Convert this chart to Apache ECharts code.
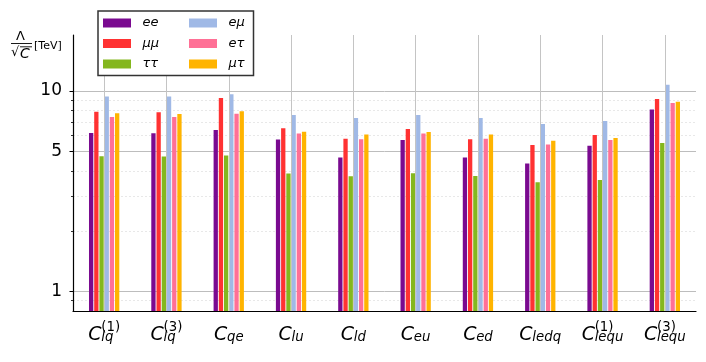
<!DOCTYPE html>
<html>
<head>
<meta charset="utf-8">
<script src="https://cdn.jsdelivr.net/npm/echarts@6/dist/echarts.min.js"></script>
<style>
  html, body { margin: 0; padding: 0; background: #fff; }
  #main { width: 706px; height: 362px; }
</style>
</head>
<body>
<div id="main"></div>
<script>
// data
var categories = ['C_lq(1)', 'C_lq(3)', 'C_qe', 'C_lu', 'C_ld', 'C_eu', 'C_ed', 'C_ledq', 'C_lequ(1)', 'C_lequ(3)'];
var subLabels = ['lq', 'lq', 'qe', 'lu', 'ld', 'eu', 'ed', 'ledq', 'lequ', 'lequ'];
var supLabels = ['(1)', '(3)', '', '', '', '', '', '', '(1)', '(3)'];
var yTicks = [1, 5, 10];
var yMinorTicks = [0.9, 2, 3, 4, 6, 7, 8, 9];
var seriesNames = ['ee', 'μμ', 'ττ', 'eμ', 'eτ', 'μτ'];
var ee     = [6.17, 6.15, 6.38, 5.73, 4.66, 5.69, 4.66, 4.35, 5.33, 8.07];
var mumu   = [7.88, 7.84, 9.23, 6.51, 5.77, 6.46, 5.75, 5.37, 6.03, 9.12];
var tautau = [4.73, 4.71, 4.77, 3.88, 3.76, 3.89, 3.77, 3.51, 3.60, 5.50];
var emu    = [9.37, 9.37, 9.62, 7.59, 7.33, 7.59, 7.33, 6.84, 7.08, 10.72];
var etau   = [7.41, 7.41, 7.70, 6.14, 5.75, 6.14, 5.77, 5.41, 5.69, 8.71];
var mutau  = [7.73, 7.67, 7.91, 6.26, 6.07, 6.24, 6.07, 5.64, 5.82, 8.84];

var colors = ['#7a0a90', '#ff3232', '#84b71e', '#a0b9e6', '#ff7096', '#ffb400'];
var values = [ee, mumu, tautau, emu, etau, mutau];
var font = 'DejaVu Sans';

var chart = echarts.init(document.getElementById('main'), null, { renderer: 'canvas' });

var series = [];
for (var i = 0; i < seriesNames.length; i++) {
  series.push({
    name: seriesNames[i],
    type: 'bar',
    data: values[i],
    barWidth: 4.3,
    barGap: '21%',
    itemStyle: { color: colors[i] },
    z: 3
  });
}
// vertical grid lines at the category centres
series.push({
  type: 'line',
  data: [],
  z: 1,
  silent: true,
  markLine: {
    silent: true,
    symbol: 'none',
    label: { show: false },
    lineStyle: { color: '#c4c4c4', width: 1, type: 'solid' },
    data: categories.map(function (c) { return { xAxis: c }; })
  }
});

chart.setOption({
  animation: false,
  color: colors,
  grid: { left: 73, right: 10, top: 35, bottom: 51 },
  legend: {
    left: 98, top: 11,
    z: 20,
    orient: 'vertical',
    height: 57,
    padding: [5.5, 8, 5, 5],
    itemWidth: 28, itemHeight: 9, itemGap: 7.5,
    icon: 'rect',
    backgroundColor: '#fff',
    borderColor: '#333',
    borderWidth: 1.5,
    data: seriesNames,
    formatter: function (name) {
      return (seriesNames.indexOf(name) < 3 ? '{a|' : '{b|') + name + '}';
    },
    textStyle: {
      rich: {
        a: { width: 39, padding: [0, 0, 0, 6.5], fontSize: 13, fontStyle: 'italic', fontFamily: font, lineHeight: 15, color: '#000' },
        b: { width: 17, padding: [0, 0, 0, 6.5], fontSize: 13, fontStyle: 'italic', fontFamily: font, lineHeight: 15, color: '#000' }
      }
    }
  },
  xAxis: {
    type: 'category',
    data: categories,
    axisLine: { lineStyle: { color: '#000', width: 1.2 } },
    axisTick: { alignWithLabel: true, length: 3.5, lineStyle: { color: '#000', width: 1 } },
    splitLine: { show: false },
    axisLabel: {
      interval: 0,
      margin: 16,
      formatter: function (v, idx) {
        var top = '{sp| }' + (supLabels[idx] ? '{sup|' + supLabels[idx] + '}' : '');
        return top + '\n{c|C}{sub|' + subLabels[idx] + '}';
      },
      rich: {
        sp: { width: 13, lineHeight: 2, fontSize: 13, align: 'left' },
        sup: { fontSize: 13.3, lineHeight: 2, fontFamily: font, color: '#000', align: 'left' },
        c: { fontSize: 19, fontStyle: 'italic', fontFamily: font, color: '#000', width: 13, lineHeight: 12, align: 'left' },
        sub: { fontSize: 13.3, fontStyle: 'italic', fontFamily: font, color: '#000', height: 17, lineHeight: 12, verticalAlign: 'top', align: 'left' }
      }
    }
  },
  yAxis: [{
    type: 'log',
    min: 0.8, max: 19,
    startValue: 0.8,
    axisLine: { show: true, lineStyle: { color: '#000', width: 1.2 } },
    axisTick: { show: true, customValues: yTicks, length: 3.5, lineStyle: { color: '#000', width: 1 } },
    axisLabel: { customValues: yTicks, margin: 11, padding: [3, 0, 0, 0], fontSize: 17, fontFamily: font, color: '#000' },
    splitLine: { show: true, lineStyle: { color: '#bdbdbd', width: 1 } }
  }, {
    type: 'log',
    min: 0.8, max: 19,
    position: 'left',
    axisLine: { show: false },
    axisTick: { show: true, customValues: yMinorTicks, length: 2, lineStyle: { color: '#000', width: 0.8 } },
    axisLabel: { show: false },
    splitLine: { show: true, lineStyle: { color: '#e2e2e2', width: 0.8, type: [2, 2] } }
  }],
  graphic: [
    { type: 'text', x: 16, y: 30.5, style: { text: 'Λ', fontSize: 13, fontFamily: font, fill: '#000' } },
    { type: 'line', shape: { x1: 11, y1: 43.5, x2: 32, y2: 43.5 }, style: { stroke: '#000', lineWidth: 0.9 } },
    { type: 'text', x: 11, y: 46, style: { text: '√', fontSize: 13, fontFamily: font, fill: '#000' } },
    { type: 'line', shape: { x1: 20, y1: 46.8, x2: 32, y2: 46.8 }, style: { stroke: '#000', lineWidth: 0.9 } },
    { type: 'text', x: 20, y: 47, style: { text: 'C', fontSize: 14, fontStyle: 'italic', fontFamily: font, fill: '#000' } },
    { type: 'text', x: 34, y: 40.5, style: { text: '[TeV]', fontSize: 11, fontFamily: font, fill: '#000' } }
  ],
  series: series
});
</script>
</body>
</html>
